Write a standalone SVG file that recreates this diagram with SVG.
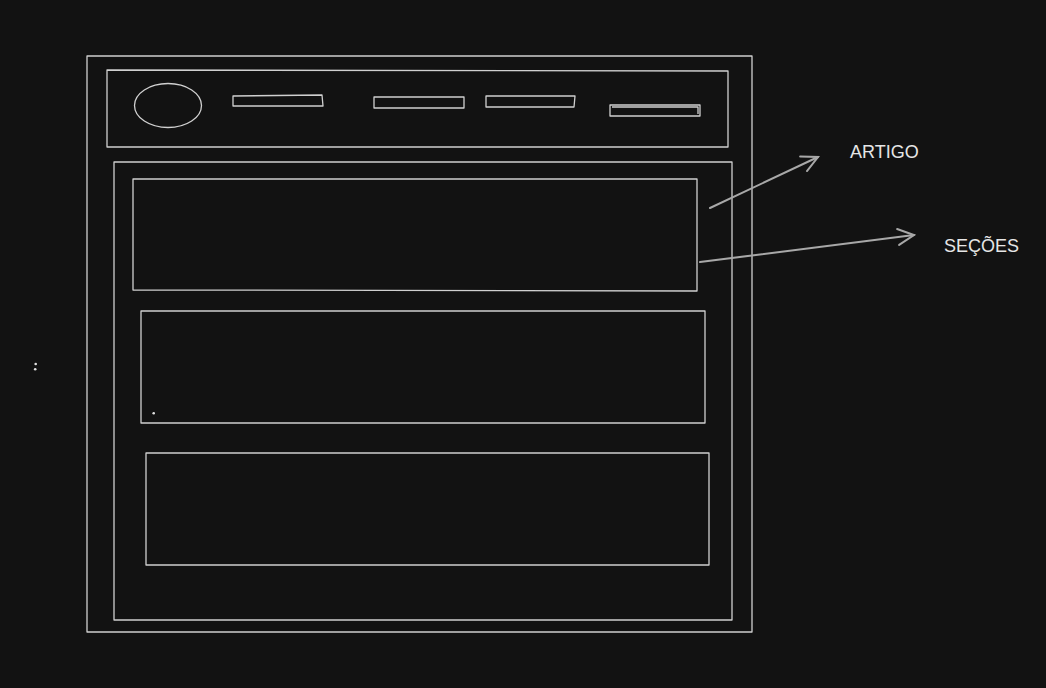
<svg xmlns="http://www.w3.org/2000/svg" width="1046" height="688" viewBox="0 0 1046 688">
<style>
.s{fill:none;stroke:#d0d0d0;stroke-width:1.3;stroke-linejoin:round}
.a{fill:none;stroke:#a8a8a8;stroke-width:2;stroke-linecap:round;stroke-linejoin:round}
.t{fill:#e6e6e6;font-family:"Liberation Sans",Arial,sans-serif;font-size:18px}
.d{fill:#e0e0e0}
</style>
<defs>
<marker id="h" viewBox="0 0 20 20" refX="18" refY="10" markerWidth="20" markerHeight="20" markerUnits="userSpaceOnUse" orient="auto">
<path d="M2,2 L18,10 L2,18" fill="none" stroke="#a8a8a8" stroke-width="2" stroke-linecap="round"/>
</marker>
</defs>
<rect width="1046" height="688" fill="#121212"/>
<g id="frame"><rect class="s" x="87" y="56" width="665" height="576"/></g>
<g id="header">
<path class="s" d="M107,70 L728,71 L728,147 L107,147 Z"/>
<ellipse id="logo" class="s" cx="168" cy="105.5" rx="33.5" ry="22"/>
<path class="s" d="M233,96 L322,95 L323,106 L233,106 Z"/>
<path class="s" d="M374,97 L464,97 L464,108 L374,108 Z"/>
<path class="s" d="M486,96 L575,96 L574,107 L486,107 Z"/>
<path class="s" d="M610,105 L700,105 L700,116 L610,116 Z M612,107 L698,107 L698,114"/>
</g>
<g id="article"><path class="s" d="M114,162 L732,162 L732,620 L114,620 Z"/></g>
<g id="section1"><path class="s" d="M133,179 L697,179 L697,291 L133,290 Z"/></g>
<g id="section2"><path class="s" d="M141,311 L705,311 L705,423 L141,423 Z"/></g>
<g id="section3"><path class="s" d="M146,453 L709,453 L709,565 L146,565 Z"/></g>
<g id="connectors">
<path class="a" d="M710,208 L818,157" marker-end="url(#h)"/>
<path class="a" d="M700,262 L914,235" marker-end="url(#h)"/>
</g>
<g id="labels">
<text class="t" x="850" y="158">ARTIGO</text>
<text class="t" x="944" y="252">SEÇÕES</text>
</g>
<g id="dots">
<circle class="d" cx="35.7" cy="364" r="1.3"/>
<circle class="d" cx="35.2" cy="369.3" r="1.3"/>
<circle class="d" cx="153.7" cy="413.3" r="1.3"/>
</g>
</svg>
